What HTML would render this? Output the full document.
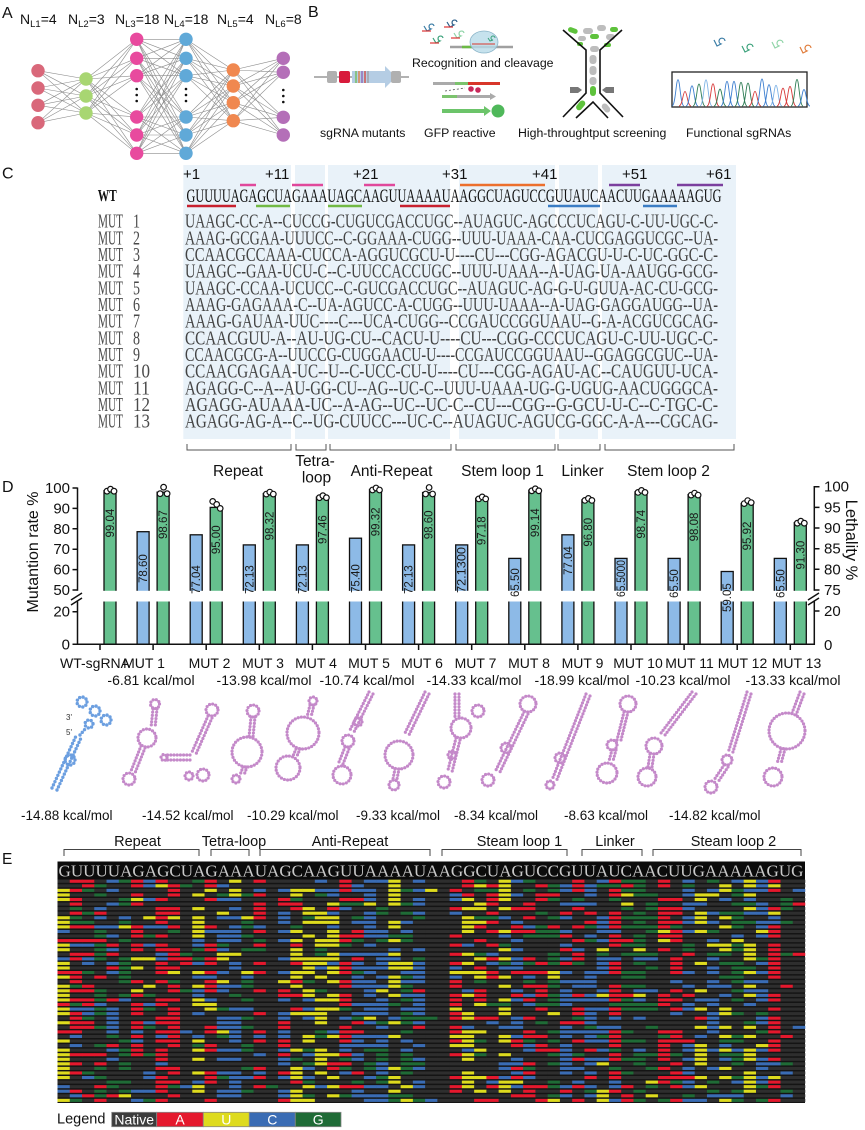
<!DOCTYPE html>
<html><head><meta charset="utf-8">
<style>
html,body{margin:0;padding:0;background:#fff;}
svg{display:block;font-family:"Liberation Sans",Arial,sans-serif;}
.sr{font-family:"Liberation Serif","Times New Roman",serif;}
.p{fill:none;stroke:#c489c9;stroke-width:3.2;stroke-linecap:round;stroke-dasharray:0 3.2;}
.b{fill:none;stroke:#6c9fe0;stroke-width:3.4;stroke-linecap:round;stroke-dasharray:0 3.5;}
</style></head><body>
<svg id="s" xmlns="http://www.w3.org/2000/svg" width="865" height="1130" viewBox="0 0 865 1130">
<rect width="865" height="1130" fill="#fff"/>

<!-- ===== Panel A ===== -->
<text x="2" y="18" font-size="16" fill="#111">A</text>
<g font-size="14" fill="#111">
<text x="20" y="24">N<tspan font-size="9.5" dy="3">L1</tspan><tspan dy="-3">=4</tspan></text>
<text x="68" y="24">N<tspan font-size="9.5" dy="3">L2</tspan><tspan dy="-3">=3</tspan></text>
<text x="115" y="24">N<tspan font-size="9.5" dy="3">L3</tspan><tspan dy="-3">=18</tspan></text>
<text x="164" y="24">N<tspan font-size="9.5" dy="3">L4</tspan><tspan dy="-3">=18</tspan></text>
<text x="217" y="24">N<tspan font-size="9.5" dy="3">L5</tspan><tspan dy="-3">=4</tspan></text>
<text x="265" y="24">N<tspan font-size="9.5" dy="3">L6</tspan><tspan dy="-3">=8</tspan></text>
</g>
<g id="nn" stroke="#8c8c8c" stroke-width="0.6"></g>
<g>
<g fill="#d9687a"><circle cx="38" cy="70.7" r="6.7"/><circle cx="38" cy="88" r="6.7"/><circle cx="38" cy="105.3" r="6.7"/><circle cx="38" cy="122.7" r="6.7"/></g>
<g fill="#a8d672"><circle cx="86" cy="79" r="6.7"/><circle cx="86" cy="96" r="6.7"/><circle cx="86" cy="113" r="6.7"/></g>
<g fill="#e84a9e"><circle cx="136.7" cy="39.3" r="6.7"/><circle cx="136.7" cy="58.3" r="6.7"/><circle cx="136.7" cy="75.7" r="6.7"/><circle cx="136.7" cy="117" r="6.7"/><circle cx="136.7" cy="135" r="6.7"/><circle cx="136.7" cy="153.3" r="6.7"/></g>
<g fill="#60a9d8"><circle cx="186" cy="39.3" r="6.7"/><circle cx="186" cy="58.3" r="6.7"/><circle cx="186" cy="75.7" r="6.7"/><circle cx="186" cy="117" r="6.7"/><circle cx="186" cy="135" r="6.7"/><circle cx="186" cy="153.3" r="6.7"/></g>
<g fill="#f08850"><circle cx="233.3" cy="70" r="6.7"/><circle cx="233.3" cy="86" r="6.7"/><circle cx="233.3" cy="102.7" r="6.7"/><circle cx="233.3" cy="120.7" r="6.7"/></g>
<g fill="#b46fb8"><circle cx="283.3" cy="58.3" r="6.7"/><circle cx="283.3" cy="72.3" r="6.7"/><circle cx="283.3" cy="117.3" r="6.7"/><circle cx="283.3" cy="135" r="6.7"/></g>
<g fill="#111"><circle cx="136.7" cy="89" r="1.3"/><circle cx="136.7" cy="95" r="1.3"/><circle cx="136.7" cy="101" r="1.3"/>
<circle cx="186" cy="89" r="1.3"/><circle cx="186" cy="95" r="1.3"/><circle cx="186" cy="101" r="1.3"/>
<circle cx="283.3" cy="90" r="1.3"/><circle cx="283.3" cy="96" r="1.3"/><circle cx="283.3" cy="102" r="1.3"/></g>
</g>

<!-- ===== Panel B ===== -->
<text x="308" y="17" font-size="16" fill="#111">B</text>
<line x1="314" y1="77" x2="409" y2="77" stroke="#666" stroke-width="1"/>
<rect x="327" y="71" width="10" height="12" rx="2" fill="#b0b0b0"/>
<rect x="339" y="71" width="11" height="12" rx="2" fill="#d81b3c"/>
<polygon points="352,71 385,71 385,66 396,77 385,88 385,83 352,83" fill="#b5cde4"/>
<g stroke-width="1.2"><line x1="356" y1="71" x2="356" y2="83" stroke="#6cba45"/><line x1="359" y1="71" x2="359" y2="83" stroke="#e8722a"/><line x1="362" y1="71" x2="362" y2="83" stroke="#8a56b0"/><line x1="365" y1="71" x2="365" y2="83" stroke="#d8362a"/><line x1="368" y1="71" x2="368" y2="83" stroke="#999"/></g>
<rect x="391" y="71" width="10" height="12" rx="2" fill="#b0b0b0"/>
<g fill="none" stroke-width="1.2">
<path d="M424,26 l3,5 l4,-2 a2.5,2.5 0 1,1 3,-3" stroke="#3a7ca5"/><line x1="422" y1="31" x2="431" y2="31" stroke="#d33"/>
<path d="M447,22 l3,5 l4,-2 a2.5,2.5 0 1,1 3,-3" stroke="#2c5f8a"/><line x1="444" y1="27" x2="453" y2="27" stroke="#d33"/>
<path d="M433,38 l3,5 l4,-2 a2.5,2.5 0 1,1 3,-3" stroke="#3aa17a"/><line x1="430" y1="43" x2="439" y2="43" stroke="#d33"/>
<path d="M454,33 l3,5 l4,-2 a2.5,2.5 0 1,1 3,-3" stroke="#8fd4a7"/><line x1="451" y1="38" x2="460" y2="38" stroke="#d33"/>
</g>
<line x1="450" y1="47" x2="513" y2="47" stroke="#a0a0a0" stroke-width="2.5"/>
<line x1="462" y1="47" x2="472" y2="47" stroke="#6cba45" stroke-width="2.5"/>
<ellipse cx="484" cy="42" rx="14" ry="11" fill="#b8dbe8" fill-opacity="0.8" stroke="#8ab4c8" stroke-width="0.8"/>
<line x1="472" y1="44" x2="495" y2="44" stroke="#d8362a" stroke-width="1"/>
<path d="M488,38 l2,3 l3,-1 a2,2 0 1,1 2,-2" fill="none" stroke="#3aa17a" stroke-width="1"/>
<text x="412" y="67" font-size="12.3" fill="#111">Recognition and cleavage</text>
<rect x="433" y="82" width="22" height="3" fill="#aaa"/>
<rect x="455" y="82" width="13" height="3" fill="#7cc36e"/>
<rect x="468" y="82" width="32" height="3" fill="#d8362a"/>
<line x1="445" y1="91" x2="465" y2="88" stroke="#555" stroke-width="0.8" stroke-dasharray="2 2"/>
<circle cx="471" cy="89" r="2.8" fill="#c8285a"/><circle cx="478" cy="90" r="2.8" fill="#c8285a"/>
<rect x="442" y="95" width="48" height="3" fill="#aaa"/><polygon points="490,93 496,96.5 490,100" fill="#aaa"/>
<rect x="442" y="95" width="15" height="3" fill="#7cc36e"/>
<rect x="442" y="109" width="42" height="4" fill="#6cc46a"/><polygon points="484,106 491,111 484,116" fill="#6cc46a"/>
<circle cx="498" cy="111" r="6.5" fill="#4fb85a"/>
<g fill="#bdbdbd">
<rect x="589.5" y="55" width="7" height="9" rx="3"/><rect x="589.5" y="66" width="7" height="9" rx="3"/><rect x="589.5" y="77" width="7" height="8" rx="3"/>
<rect x="583" y="28" width="10" height="6" rx="3"/><rect x="597" y="25" width="9" height="6" rx="3"/><rect x="606" y="34" width="9" height="6" rx="3"/><rect x="590" y="46" width="9" height="6" rx="3"/><rect x="578" y="36" width="8" height="5" rx="2.5"/>
<rect x="603" y="103" width="6" height="10" rx="3" transform="rotate(-40 606 108)"/>
</g>
<g fill="#5ec23c">
<rect x="568" y="28" width="10" height="5" rx="2.5" transform="rotate(20 573 30)"/><rect x="590" y="34" width="9" height="5" rx="2.5"/><rect x="610" y="27" width="8" height="5" rx="2.5"/><rect x="577" y="42" width="6" height="4" rx="2"/><rect x="604" y="43" width="7" height="4" rx="2"/>
<rect x="590" y="86" width="6" height="10" rx="3"/>
<rect x="578" y="100" width="6" height="11" rx="3" transform="rotate(40 581 105)"/>
</g>
<g stroke="#111" stroke-width="1.6" fill="none">
<path d="M563,30 L586,50 L586,93 L563,117"/><path d="M622,30 L600,50 L600,93 L623,117"/><path d="M576,118 L593,102 L608,118"/>
</g>
<polygon points="570,87 578,87 582,90 578,93 570,93" fill="#777"/>
<polygon points="614,87 606,87 602,90 606,93 614,93" fill="#777"/>
<g fill="none" stroke-width="1.2">
<path d="M714,40 l3,6 l4,-2 a3,3 0 1,1 4,-3" stroke="#3a7ca5"/>
<path d="M742,46 l3,6 l4,-2 a3,3 0 1,1 4,-3" stroke="#3aa17a"/>
<path d="M772,42 l3,6 l4,-2 a3,3 0 1,1 4,-3" stroke="#8fd4a7"/>
<path d="M800,47 l3,6 l4,-2 a3,3 0 1,1 4,-3" stroke="#e07b39"/>
</g>
<rect x="672" y="72" width="135" height="35" fill="#fff" stroke="#222" stroke-width="1.3"/>
<g id="ch"></g>
<g font-size="12.3" fill="#111">
<text x="320" y="137">sgRNA mutants</text>
<text x="424" y="137">GFP reactive</text>
<text x="518" y="137">High-throughtput screening</text>
<text x="686" y="137">Functional sgRNAs</text>
</g>

<!-- ===== Panel C ===== -->
<text x="2" y="178.5" font-size="16" fill="#111">C</text>
<g fill="#e9f2f9">
<rect x="183.3" y="165" width="107.7" height="274"/>
<rect x="295" y="165" width="30" height="274"/>
<rect x="328" y="165" width="122" height="274"/>
<rect x="459" y="165" width="96" height="274"/>
<rect x="559" y="165" width="39" height="274"/>
<rect x="602" y="165" width="134" height="274"/>
</g>
<g font-size="15" fill="#111">
<text x="183" y="179">+1</text><text x="265" y="179">+11</text><text x="353" y="179">+21</text>
<text x="442" y="179">+31</text><text x="532" y="179">+41</text><text x="622" y="179">+51</text><text x="706" y="179">+61</text>
</g>
<g stroke-width="2.5">
<line x1="240" y1="185" x2="256" y2="185" stroke="#e0489b"/><line x1="292" y1="185" x2="323" y2="185" stroke="#e0489b"/><line x1="364" y1="185" x2="395" y2="185" stroke="#e0489b"/>
<line x1="460" y1="185" x2="545" y2="185" stroke="#ec6f2c"/>
<line x1="609" y1="185" x2="640" y2="185" stroke="#7b3f9e"/><line x1="677" y1="185" x2="723" y2="185" stroke="#7b3f9e"/>
<line x1="187" y1="206" x2="236" y2="206" stroke="#c8202e"/><line x1="400" y1="206" x2="450" y2="206" stroke="#c8202e"/>
<line x1="256" y1="206" x2="290" y2="206" stroke="#72b944"/><line x1="328" y1="206" x2="362" y2="206" stroke="#72b944"/>
<line x1="548" y1="206" x2="600" y2="206" stroke="#3b7dc4"/><line x1="643" y1="206" x2="677" y2="206" stroke="#3b7dc4"/>
</g>
<text class="sr" x="97.7" y="201" font-size="17" font-weight="bold" textLength="19" lengthAdjust="spacingAndGlyphs" fill="#111">WT</text>
<text class="sr" x="186.5" y="202" font-size="18.5" textLength="535" lengthAdjust="spacingAndGlyphs" fill="#111">GUUUUAGAGCUAGAAAUAGCAAGUUAAAAUAAGGCUAGUCCGUUAUCAACUUGAAAAAGUG</text>
<g class="sr" font-size="19.5" fill="#4a4a4a">
<text x="98" y="227.7" textLength="25" lengthAdjust="spacingAndGlyphs">MUT</text><text x="133" y="227.7" textLength="7" lengthAdjust="spacingAndGlyphs">1</text>
<text x="98" y="244.4" textLength="25" lengthAdjust="spacingAndGlyphs">MUT</text><text x="133" y="244.4" textLength="7" lengthAdjust="spacingAndGlyphs">2</text>
<text x="98" y="261" textLength="25" lengthAdjust="spacingAndGlyphs">MUT</text><text x="133" y="261" textLength="7" lengthAdjust="spacingAndGlyphs">3</text>
<text x="98" y="277.7" textLength="25" lengthAdjust="spacingAndGlyphs">MUT</text><text x="133" y="277.7" textLength="7" lengthAdjust="spacingAndGlyphs">4</text>
<text x="98" y="294.4" textLength="25" lengthAdjust="spacingAndGlyphs">MUT</text><text x="133" y="294.4" textLength="7" lengthAdjust="spacingAndGlyphs">5</text>
<text x="98" y="311" textLength="25" lengthAdjust="spacingAndGlyphs">MUT</text><text x="133" y="311" textLength="7" lengthAdjust="spacingAndGlyphs">6</text>
<text x="98" y="327.7" textLength="25" lengthAdjust="spacingAndGlyphs">MUT</text><text x="133" y="327.7" textLength="7" lengthAdjust="spacingAndGlyphs">7</text>
<text x="98" y="344.4" textLength="25" lengthAdjust="spacingAndGlyphs">MUT</text><text x="133" y="344.4" textLength="7" lengthAdjust="spacingAndGlyphs">8</text>
<text x="98" y="361" textLength="25" lengthAdjust="spacingAndGlyphs">MUT</text><text x="133" y="361" textLength="7" lengthAdjust="spacingAndGlyphs">9</text>
<text x="98" y="377.7" textLength="25" lengthAdjust="spacingAndGlyphs">MUT</text><text x="133" y="377.7" textLength="17" lengthAdjust="spacingAndGlyphs">10</text>
<text x="98" y="394.4" textLength="25" lengthAdjust="spacingAndGlyphs">MUT</text><text x="133" y="394.4" textLength="17" lengthAdjust="spacingAndGlyphs">11</text>
<text x="98" y="411" textLength="25" lengthAdjust="spacingAndGlyphs">MUT</text><text x="133" y="411" textLength="17" lengthAdjust="spacingAndGlyphs">12</text>
<text x="98" y="427.7" textLength="25" lengthAdjust="spacingAndGlyphs">MUT</text><text x="133" y="427.7" textLength="17" lengthAdjust="spacingAndGlyphs">13</text>
</g>
<g class="sr" font-size="19.5" fill="#444">
<text x="185" y="227.7" textLength="533" lengthAdjust="spacingAndGlyphs">UAAGC-CC-A--CUCCG-CUGUCGACCUGC--AUAGUC-AGCCCUCAGU-C-UU-UGC-C-</text>
<text x="185" y="244.4" textLength="533" lengthAdjust="spacingAndGlyphs">AAAG-GCGAA-UUUCC--C-GGAAA-CUGG--UUU-UAAA-CAA-CUCGAGGUCGC--UA-</text>
<text x="185" y="261" textLength="533" lengthAdjust="spacingAndGlyphs">CCAACGCCAAA-CUCCA-AGGUCGCU-U----CU---CGG-AGACGU-U-C-UC-GGC-C-</text>
<text x="185" y="277.7" textLength="533" lengthAdjust="spacingAndGlyphs">UAAGC--GAA-UCU-C--C-UUCCACCUGC--UUU-UAAA--A-UAG-UA-AAUGG-GCG-</text>
<text x="185" y="294.4" textLength="533" lengthAdjust="spacingAndGlyphs">UAAGC-CCAA-UCUCC--C-GUCGACCUGC--AUAGUC-AG-G-U-GUUA-AC-CU-GCG-</text>
<text x="185" y="311" textLength="533" lengthAdjust="spacingAndGlyphs">AAAG-GAGAAA-C--UA-AGUCC-A-CUGG--UUU-UAAA--A-UAG-GAGGAUGG--UA-</text>
<text x="185" y="327.7" textLength="533" lengthAdjust="spacingAndGlyphs">AAAG-GAUAA-UUC----C---UCA-CUGG--CCGAUCCGGUAAU--G-A-ACGUCGCAG-</text>
<text x="185" y="344.4" textLength="533" lengthAdjust="spacingAndGlyphs">CCAACGUU-A--AU-UG-CU--CACU-U----CU---CGG-CCCUCAGU-C-UU-UGC-C-</text>
<text x="185" y="361" textLength="533" lengthAdjust="spacingAndGlyphs">CCAACGCG-A--UUCCG-CUGGAACU-U----CCGAUCCGGUAAU--GGAGGCGUC--UA-</text>
<text x="185" y="377.7" textLength="533" lengthAdjust="spacingAndGlyphs">CCAACGAGAA-UC--U--C-UCC-CU-U----CU---CGG-AGAU-AC--CAUGUU-UCA-</text>
<text x="185" y="394.4" textLength="533" lengthAdjust="spacingAndGlyphs">AGAGG-C--A--AU-GG-CU--AG--UC-C--UUU-UAAA-UG-G-UGUG-AACUGGGCA-</text>
<text x="185" y="411" textLength="533" lengthAdjust="spacingAndGlyphs">AGAGG-AUAAA-UC--A-AG--UC--UC-C--CU---CGG--G-GCU-U-C--C-TGC-C-</text>
<text x="185" y="427.7" textLength="533" lengthAdjust="spacingAndGlyphs">AGAGG-AG-A--C--UG-CUUCC---UC-C--AUAGUC-AGUCG-GGC-A-A---CGCAG-</text>
</g>
<g fill="none" stroke="#555" stroke-width="1">
<path d="M187,444 V450 H291 V444"/><path d="M296,444 V450 H326 V444"/><path d="M330,444 V450 H451 V444"/>
<path d="M456,444 V450 H555 V444"/><path d="M558,444 V450 H600 V444"/><path d="M605,444 V450 H734 V444"/>
</g>
<g font-size="15.5" fill="#111" text-anchor="middle">
<text x="238" y="476">Repeat</text>
<text x="315" y="466">Tetra-</text><text x="316.5" y="482.7">loop</text>
<text x="391.5" y="476">Anti-Repeat</text>
<text x="502.5" y="476">Stem loop 1</text>
<text x="582.5" y="476">Linker</text>
<text x="668.5" y="476">Stem loop 2</text>
</g>

<!-- ===== Panel D ===== -->
<text x="2" y="492" font-size="16" fill="#111">D</text>
<g stroke="#111" stroke-width="1.3">
<rect x="104" y="490.7" width="12" height="153.6" fill="#66c08e"/>
<rect x="137.1" y="531.7" width="12" height="112.6" fill="#8dbae7"/><rect x="157.1" y="492.2" width="12" height="152.1" fill="#66c08e"/>
<rect x="190.2" y="534.8" width="12" height="109.5" fill="#8dbae7"/><rect x="210.2" y="507.4" width="12" height="136.9" fill="#66c08e"/>
<rect x="243.3" y="544.9" width="12" height="99.4" fill="#8dbae7"/><rect x="263.3" y="493.6" width="12" height="150.7" fill="#66c08e"/>
<rect x="296.4" y="544.9" width="12" height="99.4" fill="#8dbae7"/><rect x="316.4" y="497.2" width="12" height="147.1" fill="#66c08e"/>
<rect x="349.5" y="538.2" width="12" height="106.1" fill="#8dbae7"/><rect x="369.5" y="489.5" width="12" height="154.8" fill="#66c08e"/>
<rect x="402.6" y="544.9" width="12" height="99.4" fill="#8dbae7"/><rect x="422.6" y="492.5" width="12" height="151.8" fill="#66c08e"/>
<rect x="455.7" y="544.9" width="12" height="99.4" fill="#8dbae7"/><rect x="475.7" y="498.4" width="12" height="145.9" fill="#66c08e"/>
<rect x="508.8" y="558.4" width="12" height="85.9" fill="#8dbae7"/><rect x="528.8" y="490.3" width="12" height="154" fill="#66c08e"/>
<rect x="561.9" y="534.8" width="12" height="109.5" fill="#8dbae7"/><rect x="581.9" y="499.9" width="12" height="144.4" fill="#66c08e"/>
<rect x="615" y="558.4" width="12" height="85.9" fill="#8dbae7"/><rect x="635" y="491.9" width="12" height="152.4" fill="#66c08e"/>
<rect x="668.1" y="558.4" width="12" height="85.9" fill="#8dbae7"/><rect x="688.1" y="494.6" width="12" height="149.7" fill="#66c08e"/>
<rect x="721.2" y="571.5" width="12" height="72.8" fill="#8dbae7"/><rect x="741.2" y="503.6" width="12" height="140.7" fill="#66c08e"/>
<rect x="774.3" y="558.4" width="12" height="85.9" fill="#8dbae7"/><rect x="794.3" y="522.7" width="12" height="121.6" fill="#66c08e"/>
</g>
<g id="dots" fill="#fff" stroke="#111" stroke-width="1.2"></g>
<rect x="78.5" y="590.8" width="734.5" height="10.7" fill="#fff"/>
<g stroke="#111" stroke-width="1.5" fill="none">
<path d="M77.5,487.5 V590.8 M77.5,601.5 V645"/>
<path d="M814.3,486 V590.8 M814.3,601.5 V645"/>
<path d="M77,644.3 H815"/>
<path d="M72.5,488 H77.5 M72.5,508.4 H77.5 M72.5,528.8 H77.5 M72.5,549.2 H77.5 M72.5,569.6 H77.5 M72.5,590 H77.5 M72.5,611.7 H77.5 M72.5,644.3 H77.5"/>
<path d="M814.3,486.7 H819.5 M814.3,507.4 H819.5 M814.3,528 H819.5 M814.3,548.7 H819.5 M814.3,569.3 H819.5 M814.3,590 H819.5 M814.3,611 H819.5"/>
<path d="M100,644.3 V650 M153.1,644.3 V650 M206.2,644.3 V650 M259.3,644.3 V650 M312.4,644.3 V650 M365.5,644.3 V650 M418.6,644.3 V650 M471.7,644.3 V650 M524.8,644.3 V650 M577.9,644.3 V650 M631,644.3 V650 M684.1,644.3 V650 M737.2,644.3 V650 M790.3,644.3 V650"/>
<path d="M71,600 L82,593 M71,605 L82,598"/>
<path d="M808,600 L819,593 M808,605 L819,598"/>
</g>
<g font-size="15" fill="#111" text-anchor="end">
<text x="70" y="493">100</text><text x="70" y="513.4">90</text><text x="70" y="533.8">80</text><text x="70" y="554.2">70</text><text x="70" y="574.6">60</text><text x="70" y="595">50</text><text x="70" y="616.7">20</text><text x="70" y="649.3">0</text>
</g>
<g font-size="15" fill="#111">
<text x="824" y="491.7">100</text><text x="824" y="512.4">95</text><text x="824" y="533">90</text><text x="824" y="553.7">85</text><text x="824" y="574.3">80</text><text x="824" y="595">75</text><text x="824" y="616">20</text><text x="824" y="650">0</text>
</g>
<text transform="translate(38,552) rotate(-90)" font-size="16" text-anchor="middle" fill="#111">Mutantion rate %</text>
<text transform="translate(846,540) rotate(90)" font-size="16.5" text-anchor="middle" fill="#111">Lethality %</text>
<g font-size="11.5" fill="#1a1a1a">
<g text-anchor="end">
<text transform="translate(114,508.7) rotate(-90)">99.04</text>
<text transform="translate(167.1,510.2) rotate(-90)">98.67</text>
<text transform="translate(220.2,525.4) rotate(-90)">95.00</text>
<text transform="translate(273.3,511.6) rotate(-90)">98.32</text>
<text transform="translate(326.4,515.2) rotate(-90)">97.46</text>
<text transform="translate(379.5,507.5) rotate(-90)">99.32</text>
<text transform="translate(432.6,510.5) rotate(-90)">98.60</text>
<text transform="translate(485.7,516.4) rotate(-90)">97.18</text>
<text transform="translate(538.8,508.3) rotate(-90)">99.14</text>
<text transform="translate(591.9,517.9) rotate(-90)">96.80</text>
<text transform="translate(645,509.9) rotate(-90)">98.74</text>
<text transform="translate(698.1,512.6) rotate(-90)">98.08</text>
<text transform="translate(751.2,521.6) rotate(-90)">95.92</text>
<text transform="translate(804.3,540.7) rotate(-90)">91.30</text>
</g>
<text transform="translate(147.1,583) rotate(-90)">78.60</text>
<text transform="translate(200.2,594) rotate(-90)">77.04</text>
<text transform="translate(253.3,594) rotate(-90)">72.13</text>
<text transform="translate(306.4,594) rotate(-90)">72.13</text>
<text transform="translate(359.5,593) rotate(-90)">75.40</text>
<text transform="translate(412.6,594) rotate(-90)">72.13</text>
<text transform="translate(465.7,593) rotate(-90)" textLength="46" lengthAdjust="spacingAndGlyphs">72.1300</text>
<text transform="translate(518.8,597) rotate(-90)">65.50</text>
<text transform="translate(571.9,575) rotate(-90)">77.04</text>
<text transform="translate(625,597) rotate(-90)" textLength="37" lengthAdjust="spacingAndGlyphs">65.5000</text>
<text transform="translate(678.1,598) rotate(-90)">65.50</text>
<text transform="translate(731.2,612) rotate(-90)">59.05</text>
<text transform="translate(784.3,598) rotate(-90)">65.50</text>
</g>
<g font-size="14" fill="#111" text-anchor="middle">
<text x="95" y="668">WT-sgRNA</text><text x="144" y="668">MUT 1</text><text x="209.5" y="668">MUT 2</text><text x="263" y="668">MUT 3</text>
<text x="316" y="668">MUT 4</text><text x="369" y="668">MUT 5</text><text x="422" y="668">MUT 6</text><text x="475.5" y="668">MUT 7</text>
<text x="529" y="668">MUT 8</text><text x="582.5" y="668">MUT 9</text><text x="638" y="668">MUT 10</text><text x="689.5" y="668">MUT 11</text>
<text x="742.5" y="668">MUT 12</text><text x="796.5" y="668">MUT 13</text>
<text x="151" y="685">-6.81 kcal/mol</text><text x="264" y="685">-13.98 kcal/mol</text><text x="367" y="685">-10.74 kcal/mol</text>
<text x="474" y="685">-14.33 kcal/mol</text><text x="582" y="685">-18.99 kcal/mol</text><text x="683" y="685">-10.23 kcal/mol</text><text x="793" y="685">-13.33 kcal/mol</text>
</g>
<g class="b">
<path d="M52,788 L76,736 M57,790 L81,738"/>
<circle cx="70" cy="760" r="5"/>
<circle cx="82" cy="702" r="5"/><circle cx="95" cy="711" r="5"/><circle cx="106" cy="720" r="5"/><circle cx="89" cy="724" r="4"/>
<path d="M80,735 L86,728"/>
</g>
<text x="66" y="720" font-size="8" fill="#333">3'</text>
<text x="66" y="735" font-size="8" fill="#333">5'</text>
<g class="p">
<circle cx="155" cy="704" r="4.5"/><path d="M153,709 L151,728 M157,709 L155,728"/><circle cx="147" cy="738" r="9"/><path d="M141,746 L131,771 M145,748 L135,773"/><circle cx="129" cy="779" r="6"/>
<circle cx="212" cy="710" r="6"/><path d="M208,716 L192,752 M212,718 L196,754 M190,755 L167,755 M190,760 L167,760"/><circle cx="164" cy="757.5" r="3"/><circle cx="203" cy="775" r="6"/><circle cx="189" cy="776" r="4"/>
<circle cx="253" cy="711" r="6"/><path d="M251,717 L249,737 M255,717 L253,737"/><circle cx="247" cy="752" r="15"/><path d="M243,767 L240,775 M247,767 L244,775"/><circle cx="236" cy="779" r="4"/>
<circle cx="313" cy="701" r="4"/><path d="M310,705 L307,717 M314,705 L311,717"/><circle cx="303" cy="733" r="16"/><path d="M296,749 L293,756 M300,749 L297,756"/><circle cx="288" cy="768" r="12"/>
<path d="M369,692 L350,730 M373,694 L354,732"/><circle cx="348" cy="741" r="6"/><path d="M345,747 L339,762 M349,749 L343,764"/><circle cx="342" cy="775" r="9"/><circle cx="358" cy="722" r="4"/>
<path d="M425,692 L405,733 M429,694 L409,735"/><circle cx="399" cy="755" r="14"/><path d="M395,769 L393,779 M399,769 L397,779"/><circle cx="394" cy="785" r="5"/>
<path d="M455,694 L455,717 M459,694 L459,717"/><circle cx="478" cy="711" r="6"/><circle cx="461" cy="728" r="10"/><path d="M456,738 L448,770 M460,740 L452,772"/><circle cx="444" cy="782" r="6"/><circle cx="452" cy="755" r="4"/>
<circle cx="528" cy="704" r="8"/><path d="M524,712 L496,770 M528,714 L500,772"/><circle cx="506" cy="748" r="5"/><circle cx="488" cy="780" r="6"/>
<path d="M586,694 L552,780 M590,696 L556,782"/><circle cx="560" cy="758" r="5"/><circle cx="550" cy="785" r="4"/>
<circle cx="628" cy="704" r="8"/><path d="M624,712 L617,740 M628,712 L621,740"/><circle cx="612" cy="745" r="5"/><path d="M612,750 L609,761 M616,750 L613,761"/><circle cx="607" cy="773" r="10"/>
<path d="M692,692 L661,733 M696,694 L665,735"/><circle cx="654" cy="746" r="8"/><path d="M650,754 L648,767 M654,754 L652,767"/><circle cx="647" cy="777" r="9"/>
<path d="M747,692 L728,753 M751,694 L732,755"/><circle cx="727" cy="760" r="5"/><path d="M724,765 L714,780 M728,767 L718,782"/><circle cx="711" cy="787" r="6"/>
<path d="M800,692 L792,713 M804,694 L796,715"/><circle cx="787" cy="731" r="18"/><path d="M781,749 L777,764 M785,749 L781,764"/><circle cx="773" cy="777" r="9"/>
</g>
<g font-size="13.5" fill="#111">
<text x="21" y="820">-14.88 kcal/mol</text><text x="142" y="820">-14.52 kcal/mol</text><text x="247" y="820">-10.29 kcal/mol</text>
<text x="356" y="820">-9.33 kcal/mol</text><text x="454" y="820">-8.34 kcal/mol</text><text x="564" y="820">-8.63 kcal/mol</text><text x="669" y="820">-14.82 kcal/mol</text>
</g>

<!-- ===== Panel E ===== -->
<text x="2" y="864" font-size="15.5" fill="#111">E</text>
<g font-size="14.5" fill="#111" text-anchor="middle">
<text x="137.5" y="846">Repeat</text><text x="234" y="846">Tetra-loop</text><text x="350" y="846">Anti-Repeat</text>
<text x="519.5" y="846">Steam loop 1</text><text x="615" y="846">Linker</text><text x="733.5" y="846">Steam loop 2</text>
</g>
<g fill="none" stroke="#444" stroke-width="1">
<path d="M64,856 V849.5 H199 V856"/><path d="M211,856 V849.5 H249 V856"/><path d="M260,856 V849.5 H430 V856"/>
<path d="M442,856 V849.5 H567 V856"/><path d="M582,856 V849.5 H642 V856"/><path d="M653,856 V849.5 H801 V856"/>
</g>
<rect x="57.5" y="861.5" width="747.5" height="17.5" fill="#0b0b0b"/>
<rect x="57.5" y="879" width="747.5" height="224" fill="#141414"/>
<g id="hm"></g>
<text class="sr" x="58.5" y="876.5" font-size="17" fill="#c9c9c9" textLength="745" lengthAdjust="spacingAndGlyphs">GUUUUAGAGCUAGAAAUAGCAAGUUAAAAUAAGGCUAGUCCGUUAUCAACUUGAAAAAGUG</text>
<text x="57" y="1123.5" font-size="14.5" fill="#111">Legend</text>
<g stroke="#888" stroke-width="0.8">
<rect x="111.7" y="1112.3" width="45" height="14.4" fill="#3c3c3c"/>
<rect x="156.7" y="1112.3" width="46.6" height="14.4" fill="#e5182d"/>
<rect x="203.3" y="1112.3" width="46" height="14.4" fill="#dedb1e"/>
<rect x="249.3" y="1112.3" width="46" height="14.4" fill="#3a6cb4"/>
<rect x="295.3" y="1112.3" width="45.7" height="14.4" fill="#1f6b36"/>
</g>
<g font-size="14" fill="#fff" text-anchor="middle">
<text x="134.2" y="1124.5">Native</text><text x="180" y="1124.5">A</text><text x="226.3" y="1124.5">U</text><text x="272.3" y="1124.5">C</text><text x="318.2" y="1124.5">G</text>
</g>
</svg>
<script>
(function(){
var NS='http://www.w3.org/2000/svg';
function el(tag,attrs,parent){var e=document.createElementNS(NS,tag);for(var k in attrs)e.setAttribute(k,attrs[k]);parent.appendChild(e);return e;}
var seed=20240607;
function rnd(){seed|=0;seed=seed+0x6D2B79F5|0;var t=Math.imul(seed^seed>>>15,1|seed);t=t+Math.imul(t^t>>>7,61|t)^t;return((t^t>>>14)>>>0)/4294967296;}
var L=[[38,[70.7,88,105.3,122.7]],[86,[79,96,113]],[136.7,[39.3,58.3,75.7,117,135,153.3]],[186,[39.3,58.3,75.7,117,135,153.3]],[233.3,[70,86,102.7,120.7]],[283.3,[58.3,72.3,117.3,135]]];
var nn=document.getElementById('nn');
for(var i=0;i<L.length-1;i++){for(var a=0;a<L[i][1].length;a++)for(var b=0;b<L[i+1][1].length;b++)el('line',{x1:L[i][0],y1:L[i][1][a],x2:L[i+1][0],y2:L[i+1][1][b]},nn);}
var ch=document.getElementById('ch');
var pc="BRBGLRGBBGGRBBLRRGBGB";
var cc={B:'#3d7fd0',R:'#d83b3b',G:'#2f7d55',L:'#7fb3e6'};
for(var k=0;k<19;k++){var x=678+k*7.0;var top=78+rnd()*14;
 el('path',{d:'M'+(x-6)+',106 C'+(x-2.5)+',106 '+(x-2)+','+top+' '+x+','+top+' C'+(x+2)+','+top+' '+(x+2.5)+',106 '+(x+6)+',106',fill:'none',stroke:cc[pc[k]],'stroke-width':0.9},ch);}
var dg=document.getElementById('dots');
var gx=[104,157.1,210.2,263.3,316.4,369.5,422.6,475.7,528.8,581.9,635,688.1,741.2,794.3];
var gt=[490.7,492.2,507.4,493.6,497.2,489.5,492.5,498.4,490.3,499.9,491.9,494.6,503.6,522.7];
for(var j=0;j<gx.length;j++){
 var off=[[3,0.5],[6.5,-1.5],[10,0.5]];
 if(j==1||j==6){off=[[3,1.5],[6.5,-5],[10,1.5]];}
 if(j==2){off=[[2.5,-6],[6.5,-3],[10,1]];}
 if(j==12){off=[[3,0],[6.5,-3],[10,-1]];}
 for(var q=0;q<3;q++)el('circle',{cx:gx[j]+off[q][0],cy:gt[j]+off[q][1],r:2.8},dg);}
var hm=document.getElementById('hm');
var seq="GUUUUAGAGCUAGAAAUAGCAAGUUAAAAUAAGGCUAGUCCGUUAUCAACUUGAAAAAGUG";
var dom="YRRGBGRBRR.YRBBGR.BYYYYRBBBYGB..RYYRYBRRGBRBBRGGGRRBYBYGYBRG.";
var col={A:'#e5182d',U:'#dedb1e',C:'#3a6cb4',G:'#1f6b36'};
var map={R:'A',Y:'U',B:'C',G:'G'};
var dens={5:0.5,7:0.5,15:0.4,16:0.45,48:0.4,59:0.25};
var x0=57.5,cw=12.254,y0=879.7,rp=4.565,rh=3.1;
for(var r=0;r<49;r++){var y=y0+r*rp;
 for(var c=0;c<61;c++){var nat=seq[c];var d=dom[c];var p=d=='.'?0.07:(dens[c]!==undefined?dens[c]:0.62);
  var fill='#2e2e2e';
  if(rnd()<p){var opts=['A','C','G','U','A','C','G'].filter(function(bb){return bb!=nat;});var dm=d=='.'?null:map[d];var bs;
   if(dm&&dm!=nat&&rnd()<0.55)bs=dm;else bs=opts[Math.floor(rnd()*opts.length)];fill=col[bs];}
  el('rect',{x:(x0+c*cw).toFixed(2),y:y.toFixed(2),width:(cw+0.3).toFixed(2),height:rh,fill:fill},hm);}}
})();
</script>
</body></html>
